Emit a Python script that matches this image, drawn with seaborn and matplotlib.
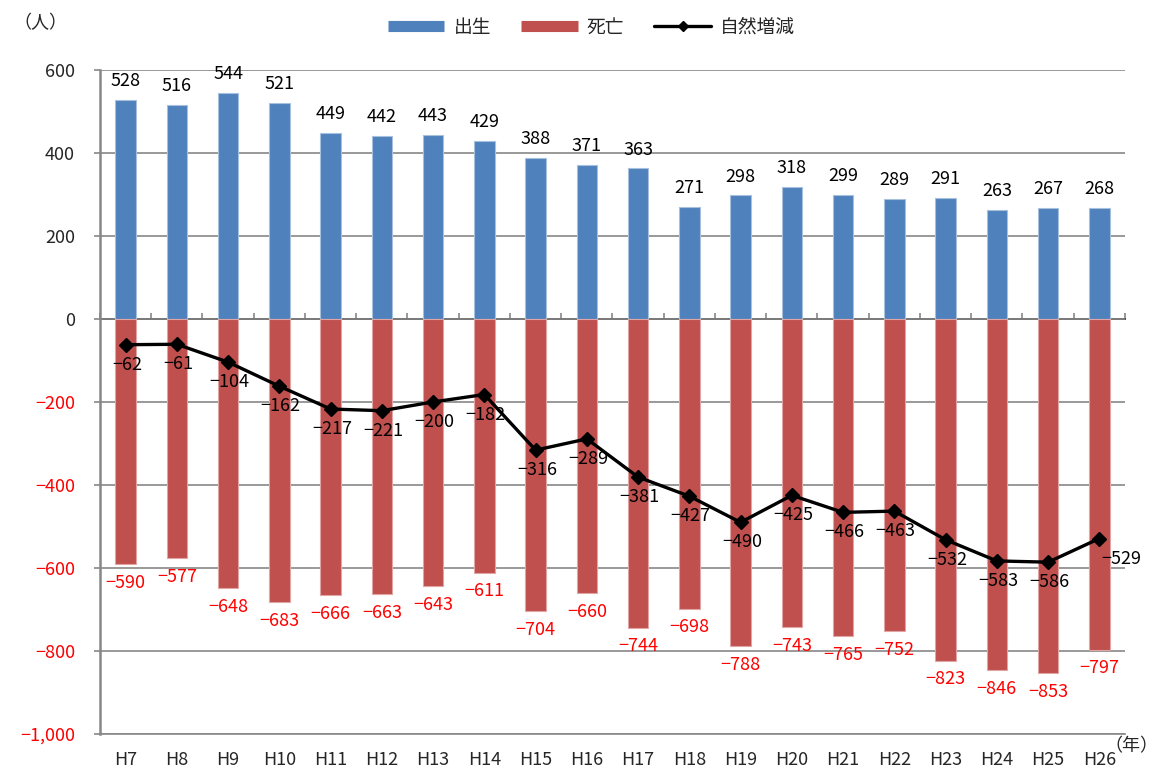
import matplotlib
matplotlib.use("Agg")
import matplotlib.pyplot as plt
import matplotlib.ticker as mticker
from matplotlib.lines import Line2D
import seaborn as sns
import numpy as np

# ──────────────────────────────────────────────
# DATA  (出生・死亡・自然増減, H7〜H26)
# ──────────────────────────────────────────────
years = ["H7", "H8", "H9", "H10", "H11", "H12", "H13", "H14", "H15", "H16",
         "H17", "H18", "H19", "H20", "H21", "H22", "H23", "H24", "H25", "H26"]
births = [528, 516, 544, 521, 449, 442, 443, 429, 388, 371,
          363, 271, 298, 318, 299, 289, 291, 263, 267, 268]
deaths = [-590, -577, -648, -683, -666, -663, -643, -611, -704, -660,
          -744, -698, -788, -743, -765, -752, -823, -846, -853, -797]
natural = [-62, -61, -104, -162, -217, -221, -200, -182, -316, -289,
           -381, -427, -490, -425, -466, -463, -532, -583, -586, -529]

BLUE = "#4F81BD"
RED = "#C0504D"
GRID = "#878787"
JP = ["Noto Sans CJK JP", "DejaVu Sans"]

sns.set_theme(style="white")
plt.rcParams["font.family"] = JP
plt.rcParams["axes.unicode_minus"] = True


def fmt_num(v):
    s = f"{abs(int(v)):,}"
    return ("−" + s) if v < 0 else s


fig = plt.figure(figsize=(11.6, 7.68), dpi=100)
ax = fig.add_axes([0.0862, 0.0443, 0.8836, 0.8646])

# bars: births up, deaths down, same category slot
sns.barplot(x=years, y=births, color=BLUE, width=0.4, edgecolor="#A7C0DE",
            linewidth=0.8, saturation=1, ax=ax, zorder=2)
sns.barplot(x=years, y=deaths, color=RED, width=0.4, edgecolor="#E0A5A4",
            linewidth=0.8, saturation=1, ax=ax, zorder=2)

xs = np.arange(len(years))
ax.plot(xs, natural, color="black", lw=2.4, marker="D", markersize=7,
        zorder=4)

# data labels
for i in xs:
    ax.annotate(str(births[i]), (i, births[i]), xytext=(0, 7),
                textcoords="offset points", ha="center", va="bottom",
                fontsize=13, color="black")
    ax.annotate(fmt_num(deaths[i]), (i, deaths[i]), xytext=(0, -7),
                textcoords="offset points", ha="center", va="top",
                fontsize=13, color="#FF0000")
    dx = 16 if i == len(years) - 1 else 1
    ax.annotate(fmt_num(natural[i]), (i, natural[i]), xytext=(dx, -8),
                textcoords="offset points", ha="center", va="top",
                fontsize=13, color="black", zorder=5)

# axes styling
ax.set_xlim(-0.5, len(years) - 0.5)
ax.set_ylim(-1000, 600)
ax.yaxis.set_major_locator(mticker.MultipleLocator(200))
ax.yaxis.set_major_formatter(mticker.FuncFormatter(lambda v, _: fmt_num(v)))
ax.grid(axis="y", color=GRID, lw=1.2, zorder=0)
ax.grid(axis="x", visible=False)
ax.set_axisbelow(True)
for side in ["top", "right"]:
    ax.spines[side].set_visible(False)
ax.spines["left"].set_color(GRID)
ax.spines["left"].set_linewidth(1.8)
ax.spines["bottom"].set_color(GRID)
ax.spines["bottom"].set_linewidth(1.2)
ax.tick_params(axis="y", direction="out", length=4, width=1.2, color=GRID,
               pad=14, labelsize=13, left=True)
ax.tick_params(axis="x", length=0, pad=12, labelsize=13)
for lab in ax.get_yticklabels():
    if lab.get_text().startswith("−"):
        lab.set_color("#FF0000")

# category axis at zero with boundary ticks
sec = ax.secondary_xaxis(1000 / 1600)
sec.set_xticks(np.arange(len(years) + 1) - 0.5)
sec.set_xticklabels([])
sec.tick_params(direction="out", length=4, width=1.2, color=GRID)
sec.spines["bottom"].set_color(GRID)
sec.spines["bottom"].set_linewidth(1.8)
sec.spines["bottom"].set_zorder(3)

ax.set_xlabel("")
ax.set_ylabel("")

# legend
handles = [
    Line2D([], [], color=BLUE, lw=8, solid_capstyle="butt"),
    Line2D([], [], color=RED, lw=8, solid_capstyle="butt"),
    Line2D([], [], color="black", lw=2.4, marker="D", markersize=5),
]
fig.legend(handles, ["出生", "死亡", "自然増減"], loc="upper center",
           bbox_to_anchor=(0.51, 1.0), ncol=3, frameon=False, fontsize=13.5,
           handlelength=3.0, columnspacing=1.6, handletextpad=0.5)

fig.text(0.012, 0.97, "（人）", fontsize=13, ha="left", va="center")
fig.text(0.999, 0.028, "（年）", fontsize=13, ha="right", va="center")

plt.savefig("out.png", dpi=100)
